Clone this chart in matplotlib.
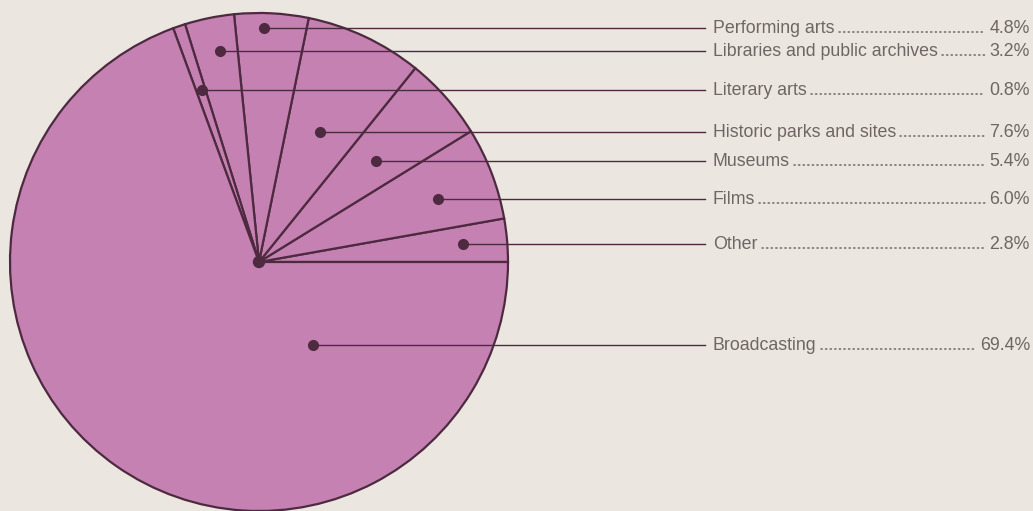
import matplotlib
matplotlib.use("Agg")
import matplotlib.pyplot as plt

# data (counterclockwise from 3 o'clock)
categories = ["Other", "Films", "Museums", "Historic parks and sites",
              "Performing arts", "Libraries and public archives",
              "Literary arts", "Broadcasting"]
shares = [2.8, 6.0, 5.4, 7.6, 4.8, 3.2, 0.8, 69.4]
pct_labels = ["2.8%", "6.0%", "5.4%", "7.6%", "4.8%", "3.2%", "0.8%", "69.4%"]

# layout (pixel-space annotation positions)
W, H = 1033, 511
label_y_px = [244, 199, 161, 132, 28, 51, 90, 345]
dot_x_px = [463, 438, 376, 320, 264, 220, 202, 313]
cx, cy, R = 259, 511 - 262, 249

BG = "#ece6e1"
FILL = "#c581b2"
EDGE = "#4e2a40"
TXT = "#6e6662"

fig = plt.figure(figsize=(W / 100, H / 100), dpi=100, facecolor=BG)
ax = fig.add_axes([0, 0, 1, 1])

wedges, _ = ax.pie(shares, startangle=0, counterclock=True, center=(cx, cy),
                   radius=R, colors=[FILL] * len(shares), frame=True,
                   wedgeprops=dict(edgecolor=EDGE, linewidth=1.6))
ax.set_xlim(0, W)
ax.set_ylim(0, H)
ax.set_aspect("equal")
ax.axis("off")

ax.add_patch(plt.Circle((cx, cy), 5.5, color=EDGE, zorder=5))

x_line_end = 705
x_text = 713
x_pct = 1030
fs = 12.8
fam = ["Liberation Sans", "DejaVu Sans"]

texts = []
for name, pct, ly, dx in zip(categories, pct_labels, label_y_px, dot_x_px):
    y = H - ly
    ax.plot([dx, x_line_end], [y, y], color=EDGE, lw=1.0, zorder=4)
    ax.plot([dx], [y], "o", color=EDGE, ms=7, zorder=6)
    t1 = ax.text(x_text, y, name, fontsize=fs, color=TXT, va="center",
                 ha="left", family=fam)
    t2 = ax.text(x_pct, y, pct, fontsize=fs, color=TXT, va="center",
                 ha="right", family=fam)
    texts.append((t1, t2, y))

fig.canvas.draw()
r = fig.canvas.get_renderer()
inv = ax.transData.inverted()
for t1, t2, y in texts:
    e1 = t1.get_window_extent(r)
    e2 = t2.get_window_extent(r)
    x0 = inv.transform((e1.x1, 0))[0] + 4
    x1 = inv.transform((e2.x0, 0))[0] - 5
    ax.plot([x0, x1], [y - 4, y - 4], color=TXT, lw=1.1,
            linestyle=(0, (0.8, 2.2)), dash_capstyle="round")

fig.savefig("out.png", dpi=100, facecolor=BG)
